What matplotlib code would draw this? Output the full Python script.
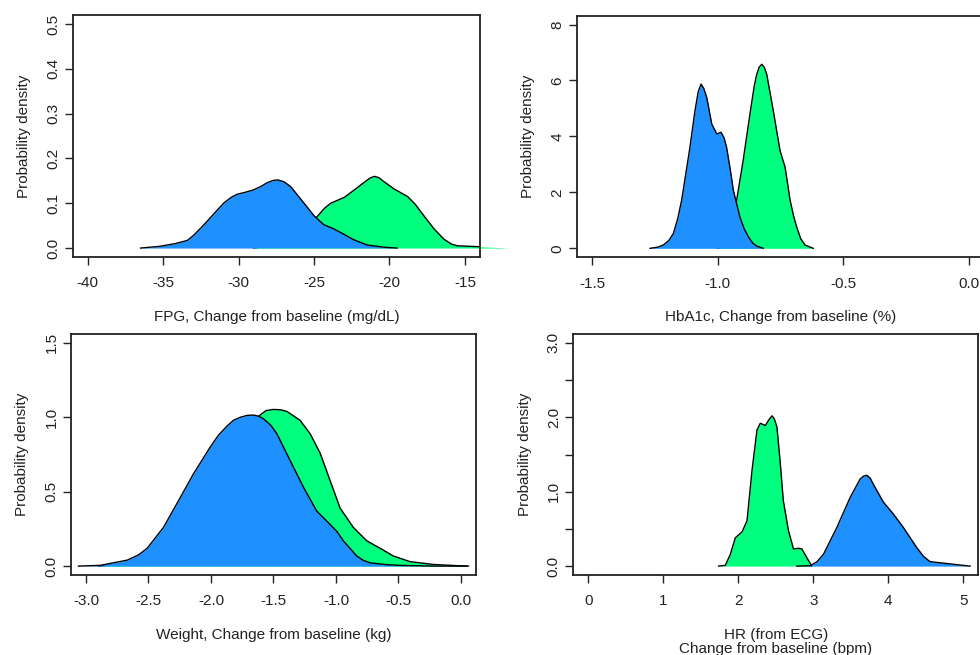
import matplotlib
matplotlib.use("Agg")
import matplotlib.pyplot as plt

plt.rcParams['font.family'] = ['Liberation Sans', 'DejaVu Sans']

BLUE = '#1E90FF'
GREEN = '#00FF7F'

# --- FPG panel (top left) ---
fpg_blue_x = [-36.5, -35.2, -34.2, -33.4, -33.0, -32.5, -32.0, -31.6, -31.0, -30.5, -30.1,
              -29.5, -29.0, -28.5, -28.1, -27.7, -27.4, -27.0, -26.55, -25.9, -25.0,
              -24.35, -23.7, -23.2, -22.4, -21.5, -20.4, -19.5]
fpg_blue_y = [0.0, 0.004, 0.010, 0.017, 0.028, 0.045, 0.063, 0.078, 0.100, 0.113, 0.120,
              0.125, 0.130, 0.138, 0.146, 0.151, 0.152, 0.148, 0.137, 0.110, 0.072,
              0.052, 0.043, 0.034, 0.019, 0.007, 0.002, 0.0]
fpg_green_x = [-29.0, -28.0, -27.0, -26.0, -25.5, -24.8, -24.3, -23.9, -23.0, -22.4, -21.7,
               -21.3, -21.0, -20.7, -20.4, -19.7, -18.8, -18.3, -17.9, -17.05, -16.4,
               -15.9, -15.5, -14.0, -12.0]
fpg_green_y = [0.0, 0.005, 0.015, 0.035, 0.05, 0.070, 0.089, 0.100, 0.113, 0.128, 0.146,
               0.156, 0.160, 0.157, 0.149, 0.132, 0.115, 0.098, 0.080, 0.043, 0.020,
               0.009, 0.005, 0.003, 0.0]

# --- HbA1c panel (top right) ---
hba_blue_x = [-1.270, -1.240, -1.217, -1.195, -1.177, -1.160, -1.144, -1.111, -1.091, -1.078,
              -1.067, -1.056, -1.044, -1.024, -1.004, -0.987, -0.975, -0.965, -0.950, -0.938,
              -0.912, -0.895, -0.878, -0.860, -0.845, -0.819]
hba_blue_y = [0.0, 0.04, 0.12, 0.28, 0.53, 1.05, 1.72, 3.61, 4.92, 5.60,
              5.87, 5.72, 5.39, 4.44, 4.09, 4.15, 3.95, 3.61, 2.80, 2.07,
              1.12, 0.70, 0.41, 0.18, 0.08, 0.0]
hba_green_x = [-1.0, -0.97, -0.95, -0.935, -0.925, -0.899, -0.872, -0.855, -0.845, -0.835,
               -0.825, -0.815, -0.805, -0.779, -0.752, -0.732, -0.712, -0.698, -0.686, -0.670,
               -0.653, -0.620]
hba_green_y = [0.0, 0.1, 0.6, 1.2, 1.72, 3.14, 4.80, 5.80, 6.22, 6.48,
               6.58, 6.48, 6.22, 4.92, 3.49, 2.90, 1.72, 1.15, 0.77, 0.35,
               0.12, 0.0]

# --- Weight panel (bottom left) ---
wt_blue_x = [-3.06, -2.886, -2.67, -2.58, -2.51, -2.38, -2.246, -2.14, -2.006, -1.94, -1.873,
             -1.82, -1.767, -1.71, -1.66, -1.62, -1.58, -1.52, -1.473, -1.367, -1.26, -1.154,
             -1.047, -0.99, -0.941, -0.834, -0.78, -0.727, -0.60, -0.488, -0.22, 0.046]
wt_blue_y = [0.0, 0.005, 0.04, 0.075, 0.12, 0.26, 0.46, 0.62, 0.80, 0.88, 0.94,
             0.98, 1.00, 1.013, 1.015, 1.008, 0.99, 0.945, 0.89, 0.71, 0.53, 0.37,
             0.28, 0.23, 0.17, 0.068, 0.038, 0.022, 0.010, 0.005, 0.0, 0.0]
wt_green_x = [-2.9, -2.6, -2.4, -2.2, -2.0, -1.8, -1.607, -1.56, -1.50, -1.44, -1.393, -1.287,
              -1.207, -1.127, -1.047, -0.967, -0.861, -0.754, -0.647, -0.541, -0.408, -0.22,
              -0.034, 0.06]
wt_green_y = [0.0, 0.02, 0.1, 0.3, 0.6, 0.88, 1.015, 1.045, 1.053, 1.05, 1.04, 0.98,
              0.89, 0.76, 0.575, 0.39, 0.26, 0.17, 0.12, 0.068, 0.03, 0.011,
              0.003, 0.0]

# --- HR panel (bottom right) ---
hr_green_x = [1.738, 1.827, 1.894, 1.96, 2.05, 2.116, 2.183, 2.249, 2.293, 2.36, 2.41, 2.449,
              2.48, 2.515, 2.56, 2.60, 2.67, 2.736, 2.80, 2.848, 2.915, 2.98]
hr_green_y = [0.0, 0.01, 0.16, 0.38, 0.46, 0.61, 1.29, 1.83, 1.92, 1.89, 1.97, 2.02,
              1.98, 1.87, 1.38, 0.88, 0.47, 0.23, 0.24, 0.23, 0.11, 0.0]
hr_blue_x = [2.78, 2.96, 3.05, 3.136, 3.314, 3.49, 3.57, 3.624, 3.67, 3.713, 3.76, 3.80,
             3.934, 4.067, 4.20, 4.378, 4.47, 4.555, 4.82, 5.09]
hr_blue_y = [0.0, 0.005, 0.06, 0.16, 0.52, 0.92, 1.07, 1.17, 1.21, 1.22, 1.18, 1.10,
             0.86, 0.70, 0.52, 0.25, 0.13, 0.06, 0.03, 0.0]

panels = [
    dict(rect=[0.0742, 0.6076, 0.4156, 0.3695], xlim=(-41, -14), ylim=(-0.02, 0.52),
         xticks=[-40, -35, -30, -25, -20, -15], xlabels=['-40', '-35', '-30', '-25', '-20', '-15'],
         yticks=[0, 0.1, 0.2, 0.3, 0.4, 0.5], ylabels=['0.0', '0.1', '0.2', '0.3', '0.4', '0.5'],
         xlabel='FPG, Change from baseline (mg/dL)',
         series=[(fpg_green_x, fpg_green_y, GREEN), (fpg_blue_x, fpg_blue_y, BLUE)]),
    dict(rect=[0.589, 0.6072, 0.415, 0.369], xlim=(-1.56, 0.06), ylim=(-0.32, 8.32),
         xticks=[-1.5, -1.0, -0.5, 0.0], xlabels=['-1.5', '-1.0', '-0.5', '0.0'],
         yticks=[0, 2, 4, 6, 8], ylabels=['0', '2', '4', '6', '8'],
         xlabel='HbA1c, Change from baseline (%)',
         series=[(hba_green_x, hba_green_y, GREEN), (hba_blue_x, hba_blue_y, BLUE)]),
    dict(rect=[0.0724, 0.1221, 0.4133, 0.368], xlim=(-3.12, 0.12), ylim=(-0.06, 1.56),
         xticks=[-3.0, -2.5, -2.0, -1.5, -1.0, -0.5, 0.0],
         xlabels=['-3.0', '-2.5', '-2.0', '-1.5', '-1.0', '-0.5', '0.0'],
         yticks=[0, 0.5, 1.0, 1.5], ylabels=['0.0', '0.5', '1.0', '1.5'],
         xlabel='Weight, Change from baseline (kg)',
         series=[(wt_green_x, wt_green_y, GREEN), (wt_blue_x, wt_blue_y, BLUE)]),
    dict(rect=[0.585, 0.1221, 0.4133, 0.368], xlim=(-0.2, 5.2), ylim=(-0.12, 3.12),
         xticks=[0, 1, 2, 3, 4, 5], xlabels=['0', '1', '2', '3', '4', '5'],
         yticks=[0, 0.5, 1.0, 1.5, 2.0, 2.5, 3.0],
         ylabels=['0.0', '', '1.0', '', '2.0', '', '3.0'],
         xlabel='HR (from ECG)\nChange from baseline (bpm)',
         series=[(hr_green_x, hr_green_y, GREEN), (hr_blue_x, hr_blue_y, BLUE)]),
]

fig = plt.figure(figsize=(9.8, 6.55), dpi=100)

for p in panels:
    ax = fig.add_axes(p['rect'])
    z = 1
    for x, y, c in p['series']:
        # later series covers the earlier one, outline included
        ax.fill_between(x, y, 0, color=c, linewidth=0, clip_on=False, zorder=z)
        ax.plot(x, y, color='black', linewidth=1.0, zorder=z + 0.5)
        z += 1
    ax.set_xlim(p['xlim'])
    ax.set_ylim(p['ylim'])
    ax.set_xticks(p['xticks'])
    ax.set_xticklabels(p['xlabels'])
    ax.set_yticks(p['yticks'])
    ax.set_yticklabels(p['ylabels'], rotation=90, va='center')
    ax.tick_params(length=6, width=1.0, color='#222222', labelsize=11,
                   labelcolor='#222222')
    ax.tick_params(axis='x', pad=8)
    ax.tick_params(axis='y', pad=3)
    ax.set_ylabel('Probability density', fontsize=11, color='#222222', labelpad=11)
    ax.set_xlabel(p['xlabel'], fontsize=11, color='#222222', labelpad=14, linespacing=1.0)
    for s in ax.spines.values():
        s.set_linewidth(1.3)
        s.set_color('#222222')

fig.savefig('out.png', dpi=100)
